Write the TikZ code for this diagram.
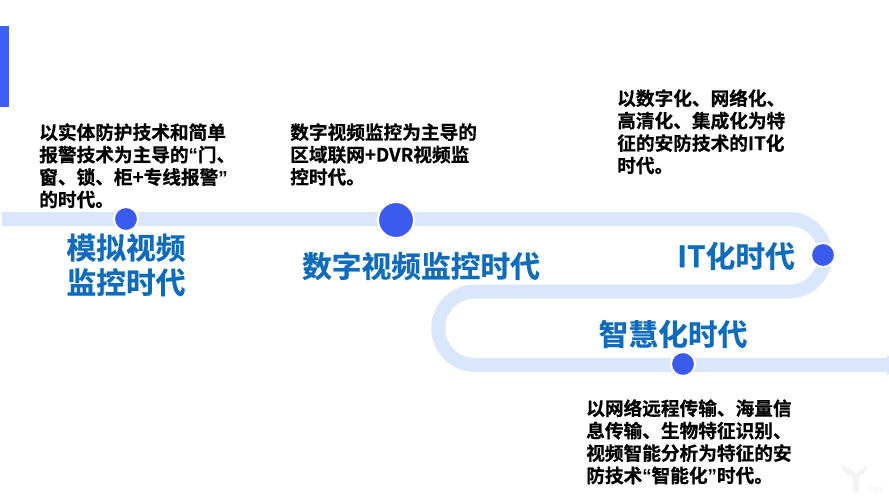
\documentclass[tikz,border=0pt]{standalone}
\usepackage{fontspec}
\setmainfont{Noto Sans CJK SC}[BoldFont={Noto Sans CJK SC Bold}, BoldFeatures={FakeBold=0.6}]
\newfontfamily\quotefont{Liberation Sans}[BoldFont={Liberation Sans Bold}]
\newcommand{\lquo}{{\quotefont “}}
\newcommand{\rquo}{{\quotefont ”}}
\usetikzlibrary{arrows.meta}
\definecolor{bandcolor}{RGB}{217, 230, 251}
\definecolor{dotcolor}{RGB}{59, 91, 238}
\definecolor{barcolor}{RGB}{63, 94, 245}
\definecolor{titlecolor}{RGB}{15, 108, 189}
\definecolor{markcolor}{RGB}{243, 243, 243}

\begin{document}
\begin{tikzpicture}[x=0.75pt, y=-0.75pt,
    band/.style={draw=bandcolor, line width=10.5pt, -{Triangle[length=9pt, width=15pt]}},
    vertex/.style={fill=dotcolor, draw=white, line width=1.5pt, circle, inner sep=0pt},
    title/.style={text=titlecolor, font=\fontsize{22.3}{26}\selectfont\bfseries, align=center, inner sep=0pt},
    note/.style={text=black, font=\fontsize{14}{16.8}\selectfont\bfseries, align=left, anchor=north west, inner sep=0pt}
    ]

    \useasboundingbox (0, 0) rectangle (889, 500);
    \clip (0, 0) rectangle (889, 500);

    % Define bar
    \fill[barcolor] (0, 26) rectangle (9, 107);

    % Define band
    \coordinate (start) at (2, 219);
    \coordinate (upper) at (789, 219);
    \coordinate (middle) at (475, 291.5);
    \coordinate (finish) at (899, 365);
    \draw[band] (start) -- (upper) arc[start angle=-90, end angle=90, radius=36.25]
        -- (middle) arc[start angle=-90, end angle=-270, radius=36.75] -- (finish);

    % Define vertices
    \foreach [count = \i] \pos/\dotsize in {(126, 219)/18pt, (396, 220)/27pt, (823, 255)/18pt, (683, 364)/18pt} {
        \node[vertex, minimum size=\dotsize, at=\pos, name=V\i] {};
    }

    % Define titles
    \node[title, name=T1] at (126, 265) {模拟视频\\监控时代};
    \node[title, name=T2] at (421, 266) {数字视频监控时代};
    \node[title, name=T3] at (736, 256) {IT化时代};
    \node[title, name=T4] at (673, 334) {智慧化时代};

    % Define notes
    \node[note, name=N1] at (39, 123) {以实体防护技术和简单\\报警技术为主导的\lquo 门、\\窗、锁、柜+专线报警\rquo\\的时代。};
    \node[note, name=N2] at (290, 123) {数字视频监控为主导的\\区域联网+DVR视频监\\控时代。};
    \node[note, name=N3] at (617, 89) {以数字化、网络化、\\高清化、集成化为特\\征的安防技术的IT化\\时代。};
    \node[note, name=N4] at (586, 399) {以网络远程传输、海量信\\息传输、生物特征识别、\\视频智能分析为特征的安\\防技术\lquo 智能化\rquo 时代。};

    % Define watermark
    \fill[markcolor] (841, 465) -- (851, 469) -- (856, 474) -- (861, 469) -- (867, 465) -- (866, 471) -- (859, 477)
        -- (859, 493) -- (853, 493) -- (853, 477) -- (843, 471) -- cycle;
    \node[text=markcolor, font=\fontsize{6}{6}\selectfont, inner sep=0pt, name=W1] at (875, 489) {亿欧};
\end{tikzpicture}
\end{document}
